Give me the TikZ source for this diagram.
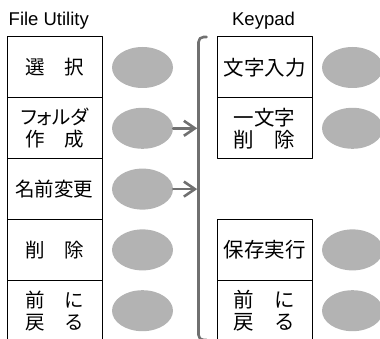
\documentclass[tikz,border=0pt]{standalone}
\usepackage{fontspec}
\setmainfont{Liberation Sans}
\newfontfamily\jpfont{Noto Sans CJK JP}
\newfontfamily\jpprop[RawFeature=+palt]{Noto Sans CJK JP}
\usetikzlibrary{shapes.geometric,arrows.meta}
\definecolor{btngray}{RGB}{179,179,179}
\definecolor{linkgray}{RGB}{112,112,112}

\begin{document}
\begin{tikzpicture}[x=1pt,y=-1pt,line join=round,line cap=round,>={Straight Barb[length=11pt,width=15pt]}]
	\tikzset{box/.style={draw,line width=1pt,minimum width=95pt,minimum height=61pt,inner sep=0pt,align=center,font=\jpfont\fontsize{19.5}{22}\selectfont},
		keybox/.style={box,font=\jpfont\fontsize{20.5}{22}\selectfont},
		button/.style={ellipse,fill=btngray,minimum width=61pt,minimum height=41pt,inner sep=0pt},
		link/.style={draw=linkgray,line width=2.6pt},
		title/.style={inner sep=0pt,font=\fontsize{18.5}{20}\selectfont}}
	\def \lx{54.5}	\def \bx{142.5}
	\def \rx{264.5}	\def \kx{352.5}
	\useasboundingbox (0,0) rectangle (380,339);
	\clip (0,0) rectangle (380,339);
	\node[title,anchor=base west] (futitle) at (8.5,26) {File Utility};
	\node[title,anchor=base] (kptitle) at (263.5,26) {Keypad};
	% File Utility
	\foreach \n/\t/\y in {sel/選　択/67.5,fol/{{\jpprop フォルダ}\\作　成}/128.3,ren/名前変更/189.1,del/削　除/249.9,back/{前　に\\戻　る}/310.7}{
		\node[box] (\n) at (\lx,\y) {\t};
		\node[button] (\n-btn) at (\bx,\y) {};
	}
	% Keypad
	\foreach \n/\t/\y in {kin/文字入力/67.5,kdel/{一文字\\削　除}/128.3,ksave/保存実行/249.9,kback/{前　に\\戻　る}/310.7}{
		\node[keybox] (\n) at (\rx,\y) {\t};
		\node[button] (\n-btn) at (\kx,\y) {};
	}
	\coordinate (brtop) at (198.5,37);
	\coordinate (brbot) at (198.5,340);
	\draw[link,rounded corners=5pt] ([xshift=8pt]brtop) -- (brtop) -- (brbot) -- ([xshift=8pt]brbot);
	\foreach \n in {fol,ren}
	\draw[link,->,shorten >=1.3pt] (\n-btn.east) -- (\n-btn.east -| brtop);
\end{tikzpicture}
\end{document}
